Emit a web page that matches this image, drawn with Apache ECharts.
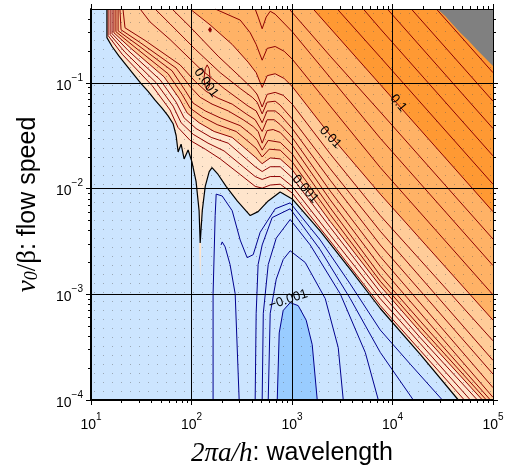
<!DOCTYPE html>
<html><head><meta charset="utf-8">
<script src="https://cdn.jsdelivr.net/npm/echarts@6/dist/echarts.min.js"></script>
<style>html,body{margin:0;padding:0;background:#fff}#c{width:509px;height:472px}</style>
</head><body><div id="c"></div>
<script>
// ---- tick values ----
const xMajor = [10, 100, 1000, 10000, 100000];
const yMajor = [1e-4, 1e-3, 1e-2, 1e-1];
const xMinor = [20,30,40,50,60,70,80,90,200,300,400,500,600,700,800,900,2000,3000,4000,5000,6000,7000,8000,9000,20000,30000,40000,50000,60000,70000,80000,90000];
const yMinor = [2e-4,3e-4,4e-4,5e-4,6e-4,7e-4,8e-4,9e-4,2e-3,3e-3,4e-3,5e-3,6e-3,7e-3,8e-3,9e-3,2e-2,3e-2,4e-2,5e-2,6e-2,7e-2,8e-2,9e-2,0.2,0.3,0.4];

// ---- zero contour ----
const zeroLine = [[14.4,0.5],[14.4,0.268],[16.2,0.221],[19.0,0.179],[22.3,0.148],[26.8,0.119],[31.5,0.0986],[37,0.0832],[43.4,0.0686],[50.9,0.0578],[58.5,0.0488],[65.6,0.0411],[70.3,0.0318],[73.6,0.0222],[78.8,0.0263],[84.4,0.0191],[92.5,0.0232],[101,0.0179],[111,0.0117],[119,0.00618],[122,0.00306],[128,0.00618],[137,0.0105],[150,0.0145],[160,0.0158],[184,0.0136],[221,0.0105],[285,0.00764],[384,0.00556],[460,0.00605],[580,0.00764],[762,0.00927],[1005,0.00798],[1910,0.00395],[3800,0.00172],[7560,0.000734],[18900,0.00027],[45200,1e-4]];
const zeroSliver = [[119,0.00306],[122,0.00139],[125,0.00306]];

// ---- positive contours, nearest to zero first ----
const p01 = [[14.8,0.5],[14.8,0.28],[20.4,0.187],[40.5,0.0944],[61.2,0.0554],[73.5,0.0378],[96.8,0.0286],[137,0.0236],[193,0.0191],[305,0.0136],[430,0.0105],[505,0.0101],[607,0.0108],[763,0.011],[1005,0.00907],[2402,0.00319],[7560,0.000782],[18920,0.000294],[51900,1e-4]];
const p02 = [[15.5,0.5],[15.5,0.286],[21.8,0.195],[44.4,0.1006],[65.6,0.0603],[78.8,0.042],[104,0.0326],[146,0.0269],[211,0.0227],[327,0.0161],[430,0.013],[505,0.0122],[607,0.013],[763,0.013],[1005,0.0105],[2402,0.00363],[7560,0.000909],[18920,0.000341],[59550,1e-4]];
const p03 = [[16.2,0.5],[16.2,0.292],[23.4,0.203],[48.7,0.107],[70.3,0.0657],[84.4,0.0467],[111,0.037],[157,0.0305],[232,0.0269],[350,0.0191],[430,0.0161],[505,0.0145],[607,0.0161],[763,0.0161],[1005,0.0127],[2402,0.0043],[7560,0.00105],[18920,0.000388],[69930,1e-4]];
const p04 = [[16.9,0.5],[16.9,0.298],[25.0,0.212],[53.4,0.114],[75.3,0.0716],[90.4,0.052],[119,0.042],[168,0.0347],[254,0.0305],[366,0.0227],[430,0.0199],[505,0.0172],[607,0.0195],[763,0.0191],[1005,0.0151],[2402,0.00489],[7560,0.0012],[18920,0.00044],[78430,1e-4]];
const p05 = [[17.7,0.5],[17.7,0.305],[26.8,0.221],[58.5,0.122],[80.6,0.0779],[96.8,0.0578],[128,0.0477],[180,0.0403],[278,0.0347],[384,0.0269],[440,0.0241],[505,0.0199],[593,0.0236],[763,0.0231],[1005,0.0179],[2402,0.00567],[7560,0.00133],[18920,0.00049],[85980,1e-4]];
const p06 = [[18.6,0.5],[18.6,0.311],[28.7,0.231],[64.1,0.13],[86.4,0.0849],[104,0.0643],[137,0.0543],[193,0.0467],[305,0.0394],[402,0.0319],[450,0.0286],[505,0.0231],[579,0.0286],[763,0.0274],[1005,0.0213],[2402,0.00658],[7560,0.00151],[18920,0.000557],[94220,1e-4]];
const p07 = [[19.4,0.5],[19.9,0.318],[30.8,0.241],[70.3,0.138],[96.8,0.0924],[122,0.0731],[160,0.063],[232,0.0543],[327,0.0448],[411,0.0386],[461,0.0347],[505,0.0269],[566,0.0354],[650,0.0362],[763,0.034],[1005,0.0257],[2402,0.00781],[7560,0.00183],[1e5,0.000106]];
const p08 = [[20.8,0.5],[21.8,0.332],[34.5,0.252],[77.0,0.148],[109,0.103],[140,0.0831],[184,0.0716],[254,0.063],[350,0.0509],[430,0.0448],[505,0.0347],[566,0.0448],[665,0.0448],[763,0.0403],[1005,0.0305],[2402,0.00946],[7560,0.00227],[1e5,0.000131]];
const p09 = [[30.8,0.5],[38.7,0.377],[61.2,0.257],[122,0.136],[211,0.0886],[366,0.0603],[440,0.0543],[505,0.042],[566,0.0543],[680,0.0543],[763,0.0498],[1005,0.037],[2402,0.012],[7560,0.00293],[1e5,0.000176]];
const p10 = [[43.4,0.5],[61.2,0.361],[109,0.208],[193,0.125],[305,0.0886],[402,0.0731],[450,0.0657],[505,0.0509],[566,0.0657],[680,0.0671],[763,0.0616],[1005,0.0457],[2402,0.0154],[7560,0.00395],[1e5,0.000237]];
const p11 = [[64.1,0.5],[96.8,0.339],[184,0.179],[305,0.114],[402,0.0886],[450,0.0779],[505,0.0591],[566,0.0779],[680,0.0813],[817,0.0763],[1005,0.063],[2402,0.0213],[7560,0.00555],[1e5,0.000363]];
const p12 = [[96.8,0.5],[153,0.354],[254,0.231],[366,0.157],[440,0.125],[505,0.0905],[566,0.117],[680,0.122],[836,0.11],[1005,0.0924],[2402,0.0319],[7560,0.00887],[1e5,0.000569]];
const p13 = [[172,0.5],[305,0.393],[384,0.298],[440,0.231],[505,0.164],[566,0.212],[680,0.221],[836,0.199],[1005,0.168],[2402,0.0603],[7560,0.0158],[1e5,0.000989]];
const p14 = [[430,0.5],[461,0.419],[505,0.325],[553,0.419],[607,0.476],[680,0.447],[1005,0.305],[2402,0.112],[7560,0.0299],[1e5,0.00187]];
const p15 = [[938,0.5],[2402,0.179],[7560,0.0531],[1e5,0.00333]];
const p16 = [[1626,0.5],[7560,0.0964],[1e5,0.00605]];
const p17 = [[2819,0.5],[7560,0.175],[1e5,0.011]];
const p18 = [[5120,0.5],[7560,0.325],[1e5,0.0204]];
const p19 = [[8880,0.5],[1e5,0.037]];
const p20 = [[15390,0.5],[1e5,0.0671]];
const p21 = [[27310,0.5],[1e5,0.125]];
const islandA = [[146,0.318],[153,0.339],[160,0.318],[153,0.298],[146,0.318]];
const islandB = [[133,0.11],[137,0.136],[143,0.148],[150,0.136],[153,0.11],[150,0.0925],[143,0.0867],[137,0.0925],[133,0.11]];

// ---- negative contours ----
const negOuter = [[164,1e-4],[164,0.00101],[172,0.00556],[176,0.00887],[202,0.00851],[254,0.00618],[305,0.00326],[358,0.00222],[411,0.00237],[482,0.00386],[681,0.00644],[959,0.00733],[1910,0.00326],[3800,0.00125],[7560,0.000459],[15040,0.000218],[31330,1e-4]];
const negHook = [[197,0.00293],[202,0.00313],[216,0.00281],[242,0.00191],[272,0.00101],[298,1e-4]];
const neg4 = [[430,1e-4],[440,0.00066],[460,0.00191],[505,0.00293],[635,0.00532],[959,0.00644],[1910,0.00264],[3800,0.00091],[7560,0.000282],[16110,1e-4]];
const neg3 = [[505,1e-4],[518,0.00066],[580,0.00191],[697,0.0034],[959,0.0051],[1518,0.00293],[3020,0.00101],[5358,0.000282],[7228,1e-4]];
const neg2 = [[580,1e-4],[607,0.00066],[697,0.00139],[817,0.00213],[959,0.00258],[1353,0.002],[2142,0.00091],[2884,0.000313],[3236,1e-4]];
const neg1 = [[713,1e-4],[746,0.000431],[817,0.000703],[959,0.000834],[1153,0.000781],[1384,0.000569],[1589,0.000334],[1783,1e-4]];

// ---- masked (no data) corner ----
const greyEdge = [[27930,0.5],[33600,0.428],[39400,0.361],[47300,0.298],[56900,0.252],[68400,0.208],[82000,0.175],[1e5,0.1445]];

// ---- contour labels ----
const labelText = ['0.1', '0.01', '0.001', '0.001', '\u22120.001'];
const labelPos = [[11430,0.0643],[2402,0.0305],[1353,0.0099],[140,0.1],[916,0.00089]];
const labelRot = [-50, -46, -48, -54, 18];

const XMAX = 1e5, YMIN = 1e-4, YMAX = 0.5;
const chart = echarts.init(document.getElementById('c'), null, {renderer: 'canvas'});

function polySeries(pts, color, z) {
  return {
    type: 'custom', coordinateSystem: 'cartesian2d', z: z, silent: true, animation: false,
    data: [pts[0]],
    renderItem: function (params, api) {
      return {type: 'polygon', shape: {points: pts.map(p => api.coord(p))}, style: {fill: color, stroke: null}};
    }
  };
}
function lineSeries(pts, color, w, z) {
  return {type: 'line', data: pts, symbol: 'none', showSymbol: false, z: z || 6, silent: true, animation: false,
    lineStyle: {color: color, width: w || 1}};
}
function upper(line) {
  const last = line[line.length - 1];
  const out = line.slice();
  if (last[1] <= YMIN * 1.0001) out.push([XMAX, YMIN]);
  out.push([XMAX, YMAX]);
  return out;
}

const pc = document.createElement('canvas'); pc.width = 9; pc.height = 9;
const g = pc.getContext('2d'); g.fillStyle = 'rgba(90,90,90,0.45)'; g.fillRect(4, 4, 1, 1);

const fmt = function (v) {
  const l = Math.log10(v), e = Math.round(l);
  if (Math.abs(l - e) > 1e-6) return '';
  return '{b|10}{s|' + (e < 0 ? '\u2212' : '') + Math.abs(e) + '}';
};
const tickRich = {
  b: {fontSize: 14, fontFamily: 'Liberation Sans', color: '#000', lineHeight: 20, verticalAlign: 'bottom'},
  s: {fontSize: 10, fontFamily: 'Liberation Sans', color: '#000', lineHeight: 12, verticalAlign: 'top'}
};

const red = '#8f0000', blue = '#00008f';
const series = [
  polySeries(upper(zeroLine), '#ffe5cc', 1),
  polySeries(zeroSliver, '#ffe5cc', 1),
  polySeries(neg1.concat([[713,1e-4]]), '#99ccff', 1),
  polySeries(upper(p04), '#ffcc99', 1),
  polySeries(upper(p12), '#ffb266', 1),
  polySeries(upper(p16), '#ff9933', 1),
  polySeries(upper(greyEdge), '#808080', 3),
  {
    type: 'custom', coordinateSystem: 'cartesian2d', z: 2, silent: true, animation: false, data: [[10, 0.5]],
    renderItem: function (params) {
      const cs = params.coordSys;
      return {type: 'rect', shape: {x: cs.x, y: cs.y, width: cs.width, height: cs.height}, style: {fill: {image: pc, repeat: 'repeat'}}};
    }
  },
  polySeries(islandA, red, 6)
];
[p01,p02,p03,p04,p05,p06,p07,p08,p09,p10,p11,p12,p13,p14,p15,p16,p17,p18,p19,p20,p21,islandB].forEach(l => series.push(lineSeries(l, red, 1, 4)));
[negOuter, negHook, neg4, neg3, neg2, neg1].forEach(l => series.push(lineSeries(l, blue, 1, 4)));
series.push(lineSeries(zeroLine, '#000', 1.2, 5));
series.push({
  type: 'custom', coordinateSystem: 'cartesian2d', z: 7, silent: true, animation: false,
  data: labelPos,
  renderItem: function (params, api) {
    const p = api.coord([api.value(0), api.value(1)]);
    return {type: 'text', x: p[0], y: p[1], rotation: labelRot[params.dataIndex] * Math.PI / 180,
      style: {text: labelText[params.dataIndex], fontSize: 13, fontFamily: 'Liberation Sans', fill: '#000', align: 'center', verticalAlign: 'middle'}};
  }
});

const baseX = {type: 'log', logBase: 10, min: 10, max: XMAX, gridIndex: 0, z: 10};
const baseY = {type: 'log', logBase: 10, min: YMIN, max: YMAX, gridIndex: 0, z: 10};
const nameRichX = {
  i: {fontFamily: 'Liberation Serif', fontStyle: 'italic', fontSize: 27, color: '#000'},
  n: {fontFamily: 'Liberation Sans', fontSize: 25, color: '#000'}
};
const nameRichY = {
  i: {fontFamily: 'Liberation Serif', fontStyle: 'italic', fontSize: 27, color: '#000', verticalAlign: 'bottom', lineHeight: 30},
  sub: {fontFamily: 'Liberation Serif', fontStyle: 'italic', fontSize: 18, color: '#000', verticalAlign: 'bottom', lineHeight: 26},
  r: {fontFamily: 'Liberation Serif', fontSize: 27, color: '#000', verticalAlign: 'bottom', lineHeight: 30},
  n: {fontFamily: 'Liberation Sans', fontSize: 25, color: '#000', verticalAlign: 'bottom', lineHeight: 30}
};

chart.setOption({
  animation: false,
  backgroundColor: '#fff',
  grid: {left: 91, right: 16, top: 9, bottom: 63, containLabel: false, show: true, backgroundColor: '#cce5ff', borderWidth: 0},
  xAxis: [
    Object.assign({}, baseX, {position: 'bottom',
      axisLine: {show: true, onZero: false, lineStyle: {color: '#000', width: 2}},
      axisTick: {show: true, length: 5, customValues: xMajor, lineStyle: {color: '#000', width: 1}},
      axisLabel: {show: true, customValues: xMajor, formatter: fmt, margin: 12, rich: tickRich},
      splitLine: {show: true, lineStyle: {color: '#000', width: 1}},
      name: '{i|2\u03c0a/h}{n|: wavelength}', nameLocation: 'middle', nameGap: 40, nameTextStyle: {rich: nameRichX}}),
    Object.assign({}, baseX, {position: 'bottom', axisLine: {show: false},
      axisTick: {show: true, length: 3, customValues: xMinor, lineStyle: {color: '#000', width: 1}},
      axisLabel: {show: false}, splitLine: {show: false}}),
    Object.assign({}, baseX, {position: 'top', axisLine: {show: true, onZero: false, lineStyle: {color: '#000', width: 1}},
      axisTick: {show: true, length: 5, customValues: xMajor, lineStyle: {color: '#000'}}, axisLabel: {show: false}, splitLine: {show: false}}),
    Object.assign({}, baseX, {position: 'top', axisLine: {show: false},
      axisTick: {show: true, length: 3, customValues: xMinor, lineStyle: {color: '#000'}}, axisLabel: {show: false}, splitLine: {show: false}})
  ],
  yAxis: [
    Object.assign({}, baseY, {position: 'left',
      axisLine: {show: true, onZero: false, lineStyle: {color: '#000', width: 2}},
      axisTick: {show: true, length: 5, customValues: yMajor, lineStyle: {color: '#000', width: 1}},
      axisLabel: {show: true, customValues: yMajor, formatter: fmt, margin: 8, rich: tickRich},
      splitLine: {show: true, lineStyle: {color: '#000', width: 1}},
      name: '{i|v}{sub|0}{r|/\u03b2}{n|: flow speed}', nameLocation: 'middle', nameGap: 50, nameRotate: 90,
      nameTextStyle: {rich: nameRichY}}),
    Object.assign({}, baseY, {position: 'left', axisLine: {show: false},
      axisTick: {show: true, length: 3, customValues: yMinor, lineStyle: {color: '#000', width: 1}},
      axisLabel: {show: false}, splitLine: {show: false}}),
    Object.assign({}, baseY, {position: 'right', axisLine: {show: true, onZero: false, lineStyle: {color: '#000', width: 1}},
      axisTick: {show: true, length: 5, customValues: yMajor, lineStyle: {color: '#000'}}, axisLabel: {show: false}, splitLine: {show: false}}),
    Object.assign({}, baseY, {position: 'right', axisLine: {show: false},
      axisTick: {show: true, length: 3, customValues: yMinor, lineStyle: {color: '#000'}}, axisLabel: {show: false}, splitLine: {show: false}})
  ],
  series: series
});
</script></body></html>
